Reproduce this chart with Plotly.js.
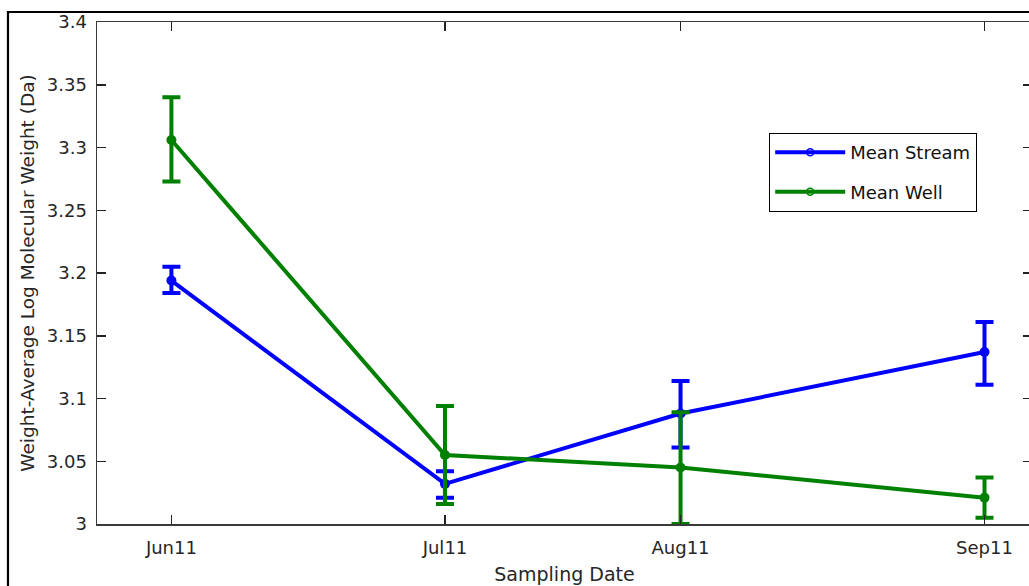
<!DOCTYPE html>
<html>
<head>
<meta charset="utf-8">
<script src="https://cdn.plot.ly/plotly-3.0.1.min.js"></script>
<style>
html,body{margin:0;padding:0;overflow:hidden;background:#fff;}
#chart{width:1045px;height:600px;}
</style>
</head>
<body>
<div id="chart"></div>
<script>
// Data
var dates = ["2011-06-14", "2011-07-20", "2011-08-20", "2011-09-29"];
var tickLabels = ["Jun11", "Jul11", "Aug11", "Sep11"];

var streamMean = [3.194, 3.032, 3.088, 3.137];
var streamErrPlus = [0.011, 0.010, 0.026, 0.024];
var streamErrMinus = [0.010, 0.011, 0.027, 0.026];

var wellMean = [3.306, 3.055, 3.045, 3.021];
var wellErrPlus = [0.034, 0.039, 0.044, 0.016];
var wellErrMinus = [0.033, 0.039, 0.045, 0.016];

var yTickVals = [3, 3.05, 3.1, 3.15, 3.2, 3.25, 3.3, 3.35, 3.4];
var yTickText = ["3", "3.05", "3.1", "3.15", "3.2", "3.25", "3.3", "3.35", "3.4"];

var BLUE = "#0000ff", GREEN = "#008000";
var FONT = "DejaVu Sans, Liberation Sans, Arial, sans-serif";

var traces = [
  {
    x: dates, y: streamMean, type: "scatter", mode: "lines+markers", showlegend: false,
    line: {color: BLUE, width: 4}, marker: {color: BLUE, size: 10},
    error_y: {type: "data", symmetric: false, array: streamErrPlus, arrayminus: streamErrMinus,
              color: BLUE, thickness: 4, width: 9}
  },
  {
    x: dates, y: wellMean, type: "scatter", mode: "lines+markers", showlegend: false,
    line: {color: GREEN, width: 4}, marker: {color: GREEN, size: 10},
    error_y: {type: "data", symmetric: false, array: wellErrPlus, arrayminus: wellErrMinus,
              color: GREEN, thickness: 4, width: 9}
  },
  {
    x: [null], y: [null], type: "scatter", mode: "lines+markers", name: "Mean Stream",
    legendgroup: "a", line: {color: BLUE, width: 4},
    marker: {color: BLUE, symbol: "circle-open", size: 7, line: {width: 1.5}}
  },
  {
    x: [null], y: [null], type: "scatter", mode: "lines+markers", name: "Mean Well",
    legendgroup: "b", line: {color: GREEN, width: 4},
    marker: {color: GREEN, symbol: "circle-open", size: 7, line: {width: 1.5}}
  }
];

var axisCommon = {
  showline: true, linecolor: "#3a3a3a", linewidth: 1.5, mirror: "allticks",
  ticks: "inside", ticklen: 9, tickwidth: 1.5, tickcolor: "#222",
  showgrid: false, zeroline: false,
  tickfont: {family: FONT, size: 18, color: "#262626"}
};

var layout = {
  width: 1045, height: 600,
  margin: {l: 97, r: 13, t: 22, b: 76},
  paper_bgcolor: "#fff", plot_bgcolor: "#fff",
  font: {family: FONT, color: "#262626"},
  xaxis: Object.assign({}, axisCommon, {
    type: "date",
    range: ["2011-06-04 05:00", "2011-10-05 06:00"],
    tickmode: "array", tickvals: dates, ticktext: tickLabels,
    ticklabelstandoff: 7,
    title: {text: "Sampling Date", font: {family: FONT, size: 19, color: "#262626"}, standoff: 10}
  }),
  yaxis: Object.assign({}, axisCommon, {
    range: [3, 3.4],
    tickmode: "array", tickvals: yTickVals, ticktext: yTickText,
    ticklabelstandoff: 5,
    title: {text: "Weight-Average Log Molecular Weight (Da)", font: {family: FONT, size: 18.5, color: "#262626"}, standoff: 7}
  }),
  legend: {
    x: 0.7187, y: 0.779, xanchor: "left", yanchor: "top",
    bgcolor: "#fff", bordercolor: "#000", borderwidth: 1.2,
    font: {family: FONT, size: 18, color: "#111"},
    traceorder: "grouped", tracegroupgap: 13, itemwidth: 70
  },
  shapes: [{
    type: "rect", xref: "paper", yref: "paper",
    x0: -0.0952, x1: 1.0086, y0: -0.1454, y1: 1.0199,
    line: {color: "#000", width: 2.2}, fillcolor: "rgba(0,0,0,0)", layer: "below"
  }]
};

Plotly.newPlot("chart", traces, layout, {displayModeBar: false, staticPlot: true});
</script>
</body>
</html>
